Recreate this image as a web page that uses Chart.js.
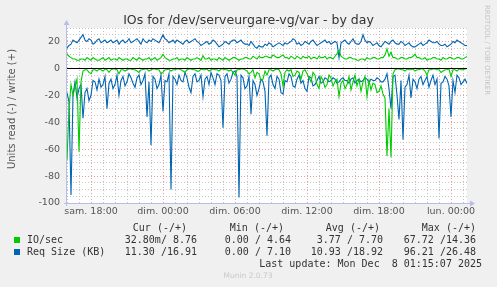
<!DOCTYPE html>
<html>
<head>
<meta charset="utf-8">
<script src="https://cdn.jsdelivr.net/npm/chart.js@4"></script>
<style>
  html, body { margin: 0; padding: 0; background: #f0f0f0; }
  canvas { display: block; }
</style>
</head>
<body>
<canvas id="chart" width="497" height="287"></canvas>
<script>
// samples every 10 min, from sam. 16:00 (hour 16) to lun. 01:20 (hour 49.33)
const START_HOUR = 16;
const STEP_HOURS = 1 / 6;

const ioWrite = [
  11, 9, 8, 7, 7, 6, 6, 7, 7, 6, 8, 7, 6, 8, 7, 6, 6, 7, 8, 6, 7, 8, 6, 7, 7, 6, 8, 7, 6, 7,
  7, 6, 6, 8, 7, 6, 8, 7, 6, 7, 7, 8, 6, 7, 8, 6, 7, 8, 10.5, 8, 7, 6, 6, 7,
  7, 8, 6, 7, 7, 6, 8, 7, 6, 7, 7, 8, 7, 6, 9.5, 7, 7, 8, 6, 7, 7, 6, 8, 7, 6, 8,
  7, 6, 7, 8, 8, 7, 6, 7, 7, 8, 8, 7, 7, 9, 8, 7, 9, 8, 8, 9, 9, 8,
  8, 10, 9, 8, 8, 9, 10, 8, 8, 7, 9, 8, 7, 9, 8, 7, 9, 8, 8, 9, 7, 8, 8, 7, 9, 8, 8, 9,
  7, 8, 8, 7, 9, 11, 13.5, 9, 8, 7, 7, 8, 8, 7, 7, 6, 6, 7, 7, 6, 8, 7,
  7, 8, 8, 7, 7, 8, 8, 10, 14.5, 9, 12, 8, 8, 7, 7, 8, 8, 7, 7, 8, 8, 9, 10.5, 8, 8, 7,
  7, 8, 6, 7, 7, 8, 8, 7, 7, 6, 8, 7, 7, 8, 8, 7, 7, 8, 8, 7, 7, 8, 8.76
];
const ioRead = [
  -68, -30, -12, -20, -14, -8, -62, -10, -2, -1, -1, -3, -4, -1, -1, -2, -0.5, -1, -2, -0.5,
  -1, -3, -1, -0.5, -0.5, -1, -4, -1, -1, -2, -1, -0.5, -0.5, -1, -1, -2, -3, -1, -1, -0.5,
  -0.5, -2, -1, -0.5, -0.5, -1, -1, -4, -3, -1, -1, -0.5, -2, -1,
  -1, -0.5, -0.5, -1, -2, -3, -1, -0.5, -0.5, -1, -1, -2, -2, -0.5, -1, -1, -0.5, -2,
  -1, -0.5, -1, -1, -2, -0.5, -0.5, -1, -1, -2, -1, -3, -5, -1, -1, -0.5, -0.5, -1,
  -2, -4, -3, -1, -7, -3, -4, -9, -8, -2, -5, -1,
  -1, -2, -1, -0.5, -1, -4, -13, -3, -1, -2, -1, -6, -5, -2, -3, -8, -2, -1, -4, -7,
  -10, -3, -5, -12, -15, -6, -9, -14, -12, -5, -7, -13, -10, -8, -21, -11, -9, -15,
  -12, -6, -16, -10, -5, -13, -8, -17, -10, -6, -21, -9,
  -16, -11, -12, -18, -17, -13, -19, -22, -65, -30, -66, -4, -1, -0.5, -0.5, -1,
  -1, -2, -0.5, -1, -1, -0.5, -2, -1, -1, -0.5, -0.5, -2, -5, -1, -1, -0.5,
  -0.5, -1, -1, -3, -2, -1, -1, -0.5, -6, -1, -1, -2, -0.5, -1, -1, -0.5, -0.03
];
const sizeWrite = [
  15, 17, 18, 21, 20, 19, 21, 23, 25, 21, 20, 22, 21, 18, 19, 21, 22, 19, 20, 21,
  19, 20, 21, 19, 20, 21, 18, 20, 21, 19, 20, 22, 19, 20, 21, 22, 20, 18, 22, 20,
  19, 21, 20, 22, 21, 20, 19, 22, 25, 22, 21, 19, 20, 21,
  19, 21, 20, 19, 18, 20, 21, 19, 20, 21, 22, 20, 19, 17, 18, 19, 20, 18, 19, 21,
  20, 18, 16, 17, 18, 20, 19, 18, 20, 21, 21, 19, 20, 21, 19, 18, 18, 17, 20, 18,
  16, 15, 17, 16, 16, 18, 17, 19,
  18, 16, 17, 18, 19, 18, 17, 19, 18, 19, 20, 22, 21, 18, 19, 17, 18, 20, 19, 18,
  20, 21, 19, 17, 18, 19, 20, 21, 19, 20, 18, 19, 20, 19, 8, 19, 20, 21, 19, 18,
  20, 22, 19, 18, 18, 20, 25, 21, 19, 20,
  19, 17, 18, 19, 17, 16, 18, 20, 19, 18, 20, 21, 19, 18, 18, 20, 19, 17, 18, 19,
  17, 16, 16, 17, 18, 19, 17, 18, 19, 21, 20, 19, 19, 20, 18, 17, 17, 18, 16, 17,
  18, 20, 19, 21, 20, 19, 18, 17, 16.91
];
const sizeRead = [
  -18, -25, -94, -20, -10, -22, -15, -12, -37, -18, -15, -24, -20, -9, -10, -16, -8, -14, -12, -6,
  -30, -11, -8, -15, -12, -5, -20, -9, -6, -13, -10, -4, -7, -11, -14, -7, -5, -12, -9, -4,
  -36, -10, -57, -6, -8, -15, -12, -5, -32, -9, -10, -4, -90, -6,
  -8, -12, -5, -9, -10, -3, -7, -14, -18, -6, -4, -10, -9, -5, -21, -8, -6, -12, -3, -7,
  -12, -4, -5, -9, -44, -6, -4, -11, -8, -3, -2, -6, -96, -5, -7, -15, -13, -6, -34, -9,
  -12, -20, -15, -8, -10, -17, -50, -7,
  -5, -12, -15, -6, -8, -18, -19, -9, -10, -4, -6, -13, -14, -8, -5, -11, -9, -15, -17, -6,
  -7, -13, -12, -9, -6, -11, -10, -7, -8, -10, -9, -7, -8, -11, -10, -8, -7, -9, -9, -11,
  -8, -7, -11, -9, -8, -10, -9, -7, -8, -10,
  -8, -9, -9, -7, -8, -10, -10, -8, -4, -15, -30, -6, -5, -20, -38, -9, -53, -14, -12, -5,
  -22, -8, -10, -15, -8, -6, -12, -9, -6, -14, -9, -5, -12, -8, -52, -11, -10, -6, -8, -13,
  -36, -9, -18, -5, -7, -12, -10, -8, -11.3
];

const xLabels = { 18: 'sam. 18:00', 24: 'dim. 00:00', 30: 'dim. 06:00', 36: 'dim. 12:00', 42: 'dim. 18:00', 48: 'lun. 00:00' };

const legendHead = ['Cur (-/+)', 'Min (-/+)', 'Avg (-/+)', 'Max (-/+)'];
const legendIO = ['32.80m/ 8.76', '0.00 / 4.64', '3.77 / 7.70', '67.72 /14.36'];
const legendSize = ['11.30 /16.91', '0.00 / 7.10', '10.93 /18.92', '96.21 /26.48'];

const GREEN = '#00cc00';
const BLUE = '#0066b3';
const MINOR = 'rgba(190,190,190,0.9)';
const MAJOR = 'rgba(230,120,120,0.75)';
const AXIS = '#b8bce8';

const toPoints = vals => vals.map((v, i) => ({ x: START_HOUR + i * STEP_HOURS, y: v }));

function line(data, color, label) {
  return {
    label: label,
    data: toPoints(data),
    borderColor: color,
    borderWidth: 1.1,
    pointRadius: 0,
    tension: 0,
    fill: false
  };
}

const munin = {
  id: 'munin',
  beforeDraw(chart) {
    const c = chart.ctx, a = chart.chartArea;
    c.save();
    c.fillStyle = '#f0f0f0';
    c.fillRect(0, 0, chart.width, chart.height);
    c.fillStyle = '#ffffff';
    c.fillRect(a.left, a.top, a.right - a.left, a.bottom - a.top);
    c.restore();
  },
  afterDatasetsDraw(chart) {
    const c = chart.ctx, a = chart.chartArea;
    const y0 = Math.round(chart.scales.y.getPixelForValue(0)) + 0.5;
    c.save();
    c.strokeStyle = '#000000';
    c.lineWidth = 1;
    c.beginPath();
    c.moveTo(a.left, y0);
    c.lineTo(a.right, y0);
    c.stroke();
    c.restore();
  },
  afterDraw(chart) {
    const c = chart.ctx, a = chart.chartArea;
    c.save();

    // axes with arrows
    c.strokeStyle = AXIS;
    c.fillStyle = AXIS;
    c.lineWidth = 1;
    c.beginPath();
    c.moveTo(a.left - 0.5, a.bottom + 3);
    c.lineTo(a.left - 0.5, a.top - 4);
    c.moveTo(a.left - 3, a.bottom + 0.5);
    c.lineTo(a.right + 4, a.bottom + 0.5);
    c.stroke();
    c.beginPath();
    c.moveTo(a.left - 3.5, a.top - 3);
    c.lineTo(a.left + 2.5, a.top - 3);
    c.lineTo(a.left - 0.5, a.top - 8);
    c.fill();
    c.beginPath();
    c.moveTo(a.right + 3, a.bottom - 2.5);
    c.lineTo(a.right + 3, a.bottom + 3.5);
    c.lineTo(a.right + 8, a.bottom + 0.5);
    c.fill();

    // title
    c.fillStyle = '#333333';
    c.font = '12.5px "DejaVu Sans"';
    c.textAlign = 'center';
    c.textBaseline = 'alphabetic';
    c.fillText('IOs for /dev/serveurgare-vg/var - by day', 248.5, 23.5);

    // vertical axis title
    c.save();
    c.translate(12, 109);
    c.rotate(-Math.PI / 2);
    c.fillStyle = '#555555';
    c.font = '10px "DejaVu Sans"';
    c.textBaseline = 'middle';
    c.fillText('Units read (-) / write (+)', 0, 0);
    c.restore();

    // watermark on the right
    c.save();
    c.translate(487, 5);
    c.rotate(Math.PI / 2);
    c.fillStyle = '#c4c4c4';
    c.font = '7px "DejaVu Sans"';
    c.textAlign = 'left';
    c.textBaseline = 'middle';
    c.fillText('RRDTOOL / TOBI OETIKER', 0, 0);
    c.restore();

    // legend
    c.font = '10px "DejaVu Sans Mono"';
    c.fillStyle = '#333333';
    c.textBaseline = 'middle';
    c.textAlign = 'right';
    const colEnds = [187, 284, 380, 476];
    const valEnds = [197, 291, 383, 476];
    legendHead.forEach((t, i) => c.fillText(t, colEnds[i], 228));
    legendIO.forEach((t, i) => c.fillText(t, valEnds[i], 240));
    legendSize.forEach((t, i) => c.fillText(t, valEnds[i], 252));
    c.fillText('Last update: Mon Dec  8 01:15:07 2025', 482, 264);
    c.textAlign = 'left';
    c.fillText('IO/sec', 27, 240);
    c.fillText('Req Size (KB)', 27, 252);
    c.fillStyle = GREEN;
    c.fillRect(14, 237, 6, 6);
    c.fillStyle = BLUE;
    c.fillRect(14, 249, 6, 6);

    c.fillStyle = '#c8c8c8';
    c.font = '7.5px "DejaVu Sans"';
    c.textAlign = 'center';
    c.fillText('Munin 2.0.73', 248, 276);
    c.restore();
  }
};

new Chart(document.getElementById('chart'), {
  type: 'line',
  data: {
    datasets: [
      line(ioWrite, GREEN, 'IO/sec write'),
      line(ioRead, GREEN, 'IO/sec read'),
      line(sizeWrite, BLUE, 'Req Size write'),
      line(sizeRead, BLUE, 'Req Size read')
    ]
  },
  options: {
    responsive: false,
    devicePixelRatio: 1,
    animation: false,
    layout: { padding: { left: 0, top: 28, right: 30, bottom: 68 } },
    plugins: { legend: { display: false }, tooltip: { enabled: false }, title: { display: false } },
    scales: {
      x: {
        type: 'linear',
        min: START_HOUR,
        max: START_HOUR + 200 * STEP_HOURS,
        afterFit: s => { s.height = 16; },
        border: { display: false, dash: [1, 2] },
        grid: {
          drawTicks: false,
          color: ctx => (ctx.tick && ctx.tick.value % 6 === 0 ? MAJOR : MINOR)
        },
        ticks: {
          stepSize: 1,
          autoSkip: false,
          includeBounds: false,
          minRotation: 0,
          maxRotation: 0,
          padding: 3,
          color: '#555555',
          font: { family: 'DejaVu Sans', size: 9.5 },
          callback: v => xLabels[v] || ''
        }
      },
      y: {
        min: -100,
        max: 30,
        afterFit: s => { s.width = 67; },
        border: { display: false, dash: [1, 2] },
        grid: {
          drawTicks: false,
          color: ctx => (ctx.tick && ctx.tick.value % 20 === 0 ? MAJOR : MINOR)
        },
        ticks: {
          stepSize: 5,
          autoSkip: false,
          padding: 7,
          color: '#555555',
          font: { family: 'DejaVu Sans', size: 9.5 },
          callback: v => (v % 20 === 0 ? String(v) : '')
        }
      }
    }
  },
  plugins: [munin]
});
</script>
</body>
</html>
